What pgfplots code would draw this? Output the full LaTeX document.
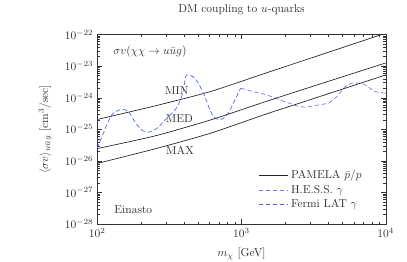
\documentclass[border=0pt]{standalone}
\usepackage{pgfplots}
\pgfplotsset{compat=1.18}
\definecolor{hesscol}{RGB}{120,120,240}
\definecolor{fermicol}{RGB}{80,100,240}
\definecolor{txt}{RGB}{50,50,50}
\begin{document}
\begin{tikzpicture}
\path[use as bounding box] (-84.6bp,-33bp) rectangle (269.3bp,194.8bp);
\begin{axis}[
  at={(0,0)}, anchor=south west,
  scale only axis, width=250.8bp, height=164.8bp,
  xmode=log, ymode=log,
  xmin=100, xmax=10000, ymin=1e-28, ymax=1e-22,
  ytick={1e-28,1e-27,1e-26,1e-25,1e-24,1e-23,1e-22},
  xtick={100,1000,10000},
  axis line style={black!80},
  tick style={black!80},
  major tick length=4bp, minor tick length=2.2bp,
  tick label style={text=txt},
  label style={text=txt},
  title={DM coupling to $u$-quarks},
  title style={at={(axis description cs:0.5,1.094)},anchor=center,text=txt},
  xlabel={$m_\chi$ [GeV]},
  xlabel style={at={(axis description cs:0.5,-0.157)},anchor=center},
  ylabel={$\langle\sigma v\rangle_{u\bar u g}$ [cm$^3$/sec]},
  ylabel style={at={(axis description cs:-0.181,0.5)},anchor=center},
  legend cell align=left,
  legend style={draw=none, fill=none, at={(rel axis cs:0.545,0.31)}, anchor=north west, font=\color{txt}, row sep=0bp},
  legend image code/.code={\draw[#1] (0bp,0bp) -- (26bp,0bp);},
]
\addplot[black!85, line width=0.6pt, smooth, tension=0.4] coordinates {
(100,2.04e-25) (251,5.5e-25) (605,1.55e-24) (1455,5.9e-24) (2548,1.38e-23) (10000,1.1e-22)};
\addlegendentry{PAMELA $\bar p/p$}
\addplot[hesscol, line width=0.6pt, dash pattern=on 3.9bp off 2.2bp] coordinates {
(987,2.0e-24) (1207,1.55e-24) (1496,1.23e-24) (1850,8.5e-25) (2415,5.5e-25) (2755,5.0e-25)
(4000,6.6e-25) (4575,1.07e-24) (5220,2.24e-24) (5810,2.88e-24) (6820,2.95e-24) (8440,1.55e-24) (10000,1.38e-24)};
\addlegendentry{H.E.S.S. $\gamma$}
\addplot[fermicol, line width=0.6pt, dash pattern=on 3.9bp off 2.2bp, smooth, tension=0.5] coordinates {
(100,2.5e-26) (110,7.4e-26) (119,1.74e-25) (129,3.24e-25) (147.5,4.27e-25) (164,3.63e-25)
(182,1.74e-25) (203,9.5e-26) (226,8.1e-26) (258,1.07e-25) (295,1.95e-25) (346,4.07e-25)
(385,1.07e-24) (406,3.63e-24) (417,5.25e-24) (463,4.57e-24) (502,2.88e-24) (558,1.07e-24)
(605,4.07e-25) (655,2.24e-25) (729,2.09e-25) (810,3.24e-25) (901,8.5e-25) (987,2.0e-24)};
\addlegendentry{Fermi LAT $\gamma$}
\addplot[black!85, line width=0.6pt, smooth, tension=0.4, forget plot] coordinates {
(100,2.45e-26) (251,6.17e-26) (605,1.95e-25) (1455,7.41e-25) (2350,1.51e-24) (10000,1.26e-23)};
\addplot[black!85, line width=0.6pt, smooth, tension=0.4, forget plot] coordinates {
(100,8.3e-27) (251,2.40e-26) (605,7.41e-26) (1455,2.95e-25) (2350,6.03e-25) (10000,5.25e-24)};
\node[text=txt] at (axis cs:356,1.74e-24) {MIN};
\node[text=txt] at (axis cs:371,2.14e-25) {MED};
\node[text=txt] at (axis cs:375,2.14e-26) {MAX};
\node[text=txt, anchor=west, inner sep=0pt] at (axis cs:129,2.8e-23) {$\sigma v(\chi\chi\to u\bar u g)$};
\node[text=txt, anchor=west, inner sep=0pt] at (axis cs:131,2.95e-28) {Einasto};
\end{axis}
\end{tikzpicture}
\end{document}
